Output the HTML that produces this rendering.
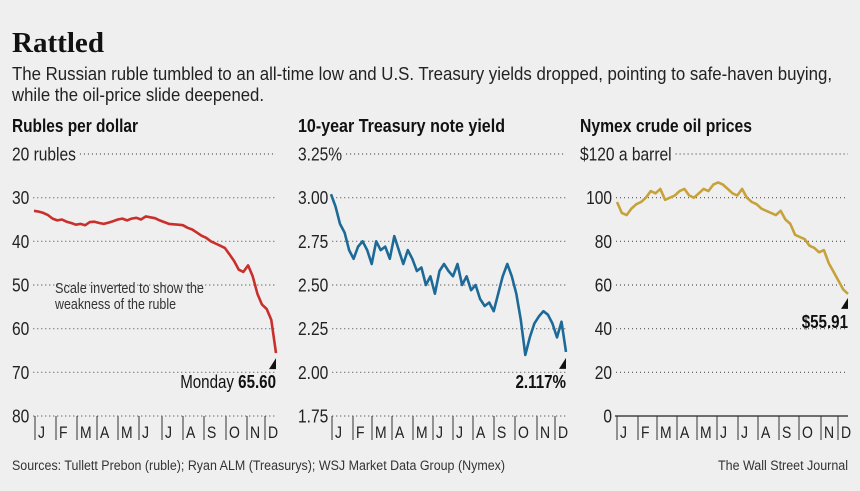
<!DOCTYPE html>
<html><head><meta charset="utf-8">
<style>
html,body{margin:0;padding:0;background:#efefef;}
svg{display:block;font-family:"Liberation Sans Narrow","Liberation Sans",sans-serif;}
</style></head>
<body>
<svg id="chart" width="860" height="491" viewBox="0 0 860 491" xmlns="http://www.w3.org/2000/svg">
<rect width="860" height="491" fill="#efefef"/>
<text x="12" y="52" font-family="Liberation Serif, serif" font-weight="bold" font-size="29" fill="#111" textLength="92" lengthAdjust="spacingAndGlyphs">Rattled</text>
<text x="12" y="80" font-size="18" fill="#222" textLength="820" lengthAdjust="spacingAndGlyphs">The Russian ruble tumbled to an all-time low and U.S. Treasury yields dropped, pointing to safe-haven buying,</text>
<text x="12" y="101" font-size="18" fill="#222" textLength="252" lengthAdjust="spacingAndGlyphs">while the oil-price slide deepened.</text>
<text x="12" y="132" font-size="18" font-weight="bold" fill="#111" textLength="126" lengthAdjust="spacingAndGlyphs">Rubles per dollar</text>
<text x="298" y="132" font-size="18" font-weight="bold" fill="#111" textLength="207" lengthAdjust="spacingAndGlyphs">10-year Treasury note yield</text>
<text x="580" y="132" font-size="18" font-weight="bold" fill="#111" textLength="172" lengthAdjust="spacingAndGlyphs">Nymex crude oil prices</text>
<text x="12" y="470" font-size="13.5" fill="#333" textLength="493" lengthAdjust="spacingAndGlyphs">Sources: Tullett Prebon (ruble); Ryan ALM (Treasurys); WSJ Market Data Group (Nymex)</text>
<text x="848" y="470" font-size="13.5" fill="#333" text-anchor="end" textLength="130" lengthAdjust="spacingAndGlyphs">The Wall Street Journal</text>
<g id="g1"></g>
<g id="g2"></g>
<g id="g3"></g>
<text x="55" y="293" font-size="14.5" fill="#333" textLength="149" lengthAdjust="spacingAndGlyphs">Scale inverted to show the</text>
<text x="55" y="309" font-size="14.5" fill="#333" textLength="121" lengthAdjust="spacingAndGlyphs">weakness of the ruble</text>
</svg>
<script>
const months = ["J","F","M","A","M","J","J","A","S","O","N","D"];
const rubleTicks = [20,30,40,50,60,70,80];
const rubleTickLabels = ["20 rubles","30","40","50","60","70","80"];
const rubleValues = [33,33.2,33.5,34,34.8,35.2,35,35.5,35.8,36.2,36,36.3,35.6,35.5,35.8,36,35.7,35.4,35,34.8,35.2,34.8,34.6,35,34.3,34.5,34.7,35.2,35.6,36,36.1,36.2,36.3,36.9,37.3,38,38.7,39.2,40,40.5,41,41.5,43,44.5,46.5,47,45.5,48,52,54.5,55.5,58,65.6];
const treasuryTicks = [3.25,3.0,2.75,2.5,2.25,2.0,1.75];
const treasuryTickLabels = ["3.25%","3.00","2.75","2.50","2.25","2.00","1.75"];
const treasuryValues = [3.02,2.95,2.85,2.80,2.70,2.65,2.72,2.75,2.70,2.62,2.75,2.70,2.72,2.65,2.78,2.70,2.62,2.70,2.65,2.58,2.60,2.50,2.55,2.45,2.58,2.62,2.58,2.55,2.62,2.50,2.55,2.47,2.50,2.42,2.38,2.40,2.35,2.45,2.55,2.62,2.55,2.45,2.30,2.10,2.20,2.28,2.32,2.35,2.33,2.28,2.20,2.29,2.117];
const oilTicks = [120,100,80,60,40,20,0];
const oilTickLabels = ["$120 a barrel","100","80","60","40","20","0"];
const oilValues = [98,93,92,95,97,98,100,103,102,104,99,100,101,103,104,101,100,102,104,103,106,107,106,104,102,101,104,100,98,97,95,94,93,92,94,90,88,83,82,81,78,77,75,76,70,66,62,58,55.91];
const rubleLabel = "65.60", treasuryLabel = "2.117%", oilLabel = "$55.91";

const NS="http://www.w3.org/2000/svg";
function mk(parent,tag,attrs,txt){const e=document.createElementNS(NS,tag);for(const k in attrs)e.setAttribute(k,attrs[k]);if(txt!==undefined)e.textContent=txt;parent.appendChild(e);return e;}
function narrow(t,f){const w=t.getComputedTextLength()*f;t.setAttribute('textLength',w.toFixed(1));t.setAttribute('lengthAdjust','spacingAndGlyphs');return w;}
const yTop=154, yBot=416;

function drawChart(cfg){
  const g=document.getElementById(cfg.id);
  const vMin=cfg.ticks[0], vMax=cfg.ticks[cfg.ticks.length-1];
  const yS=v=>yTop+(v-vMin)/(vMax-vMin)*(yBot-yTop);
  const xS=i=>cfg.x0+i/(cfg.values.length-1)*(cfg.x1-cfg.x0);
  cfg.ticks.forEach((t,i)=>{
    const y=yS(t);
    let anchor=cfg.anchor, lx0=cfg.labelX;
    if(i===0&&cfg.topStartX!==undefined){anchor='start';lx0=cfg.topStartX;}
    const lbl=mk(g,'text',{x:lx0,y:y+6.5,'font-size':18.5,fill:'#222','text-anchor':anchor},cfg.tickLabels[i]);
    
    
    const w=narrow(lbl,0.84);
    const lx=anchor==='end'?lx0+4:lx0+w+4;
    const solid=(cfg.solidBase&&i===cfg.ticks.length-1);
    const ln=mk(g,'line',{x1:solid?cfg.x0-2:lx,x2:cfg.x1,y1:y,y2:y,stroke:solid?'#222':'#555','stroke-width':solid?1.3:1.2,'stroke-dasharray':solid?'':'1 3'});
    
    
  });
  cfg.monthX.forEach((x,i)=>{
    const tk=mk(g,'line',{x1:x,x2:x,y1:yBot,y2:440,stroke:'#333','stroke-width':1});
    
    
    const ml=mk(g,'text',{x:x+3,y:438,'font-size':17,fill:'#222'},months[i]);
    
    
    narrow(ml,0.82);
  });
  const d=cfg.values.map((v,i)=>(i?'L':'M')+xS(i).toFixed(1)+' '+yS(v).toFixed(1)).join(' ');
  const p=mk(g,'path',{d:d,fill:'none',stroke:cfg.color,'stroke-width':2.6,'stroke-linejoin':'round'});
  
  
  const last=cfg.values[cfg.values.length-1];
  const ly=yS(last)+cfg.triOff;
  const tri=mk(g,'path',{d:`M${cfg.x1-7} ${ly+11} L${cfg.x1} ${ly} L${cfg.x1} ${ly+11} Z`,fill:'#111'});
  
  
  const t=mk(g,'text',{x:cfg.x1,y:ly+30,'font-size':18,fill:'#111','text-anchor':'end'});
  
  
  if(cfg.prefix){mk(t,'tspan',{},cfg.prefix);}
  mk(t,'tspan',{'font-weight':'bold'},cfg.lastLabel);
  narrow(t,0.84);
}
drawChart({id:'g1',ticks:rubleTicks,tickLabels:rubleTickLabels,values:rubleValues,x0:34,x1:276,labelX:12,anchor:'start',monthX:[35,56,77,97,118,139,162,183,204,226,247,265],color:'#c9302c',triOff:5,prefix:'Monday ',lastLabel:rubleLabel});
drawChart({id:'g2',ticks:treasuryTicks,tickLabels:treasuryTickLabels,values:treasuryValues,x0:331,x1:566,labelX:298,anchor:'start',monthX:[332,353,372,392,413,433,453,473,494,515,537,555],color:'#1d6a98',triOff:6,prefix:'',lastLabel:treasuryLabel});
drawChart({id:'g3',ticks:oilTicks,tickLabels:oilTickLabels,values:oilValues,x0:617,x1:848,labelX:612,anchor:'end',topStartX:580,monthX:[617,638,657,677,697,717,738,758,779,799,821,838],color:'#c7a23b',triOff:4,prefix:'',lastLabel:oilLabel,solidBase:true});
</script>
</body></html>
